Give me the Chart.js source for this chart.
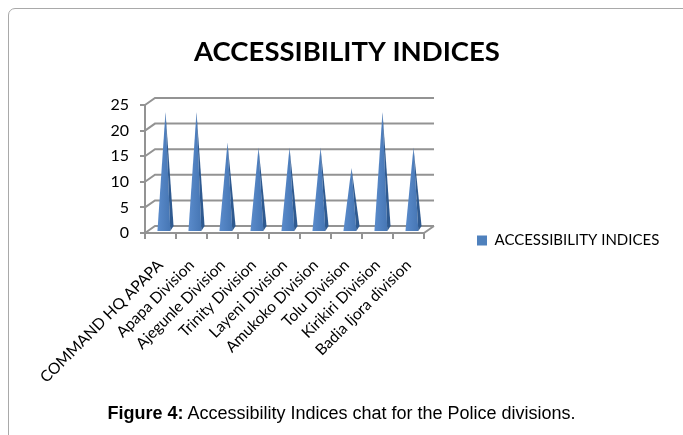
<!DOCTYPE html>
<html>
<head>
<meta charset="utf-8">
<title>Accessibility Indices</title>
<script src="https://cdn.jsdelivr.net/npm/chart.js@4.4.0/dist/chart.umd.min.js"></script>
<style>
  html, body { margin: 0; padding: 0; background: #fff; overflow: hidden; }
  .figure { position: relative; width: 683px; height: 435px; }
  .frame {
    position: absolute; left: 8px; top: 8px; width: 720px; height: 440px;
    border: 1px solid #a9a9a9; border-radius: 7px;
  }
  #chart { position: absolute; left: 0; top: 0; }
  .caption {
    position: absolute; left: 0; top: 403px; width: 683px; text-align: center;
    font: 18px "Liberation Sans", Arial, sans-serif; color: #000;
  }
</style>
</head>
<body>
<div class="figure">
  <div class="frame"></div>
  <canvas id="chart" width="683" height="435"></canvas>
  <div class="caption"><b>Figure 4:</b> Accessibility Indices chat for the Police divisions.</div>
</div>
<script>
const divisions = [
  'COMMAND HQ APAPA', 'Apapa Division', 'Ajegunle Division', 'Trinity Division',
  'Layeni Division', 'Amukoko Division', 'Tolu Division', 'Kirikiri Division',
  'Badia Ijora division'
]
const accessibility = [23, 23, 17, 16, 16, 16, 12, 23, 16]
const seriesName = 'ACCESSIBILITY INDICES'
const yMax = 25
const yStep = 5

// offset of the back wall, gives the plot its 3-D depth
const DEPTH = { x: 10, y: -7 }
const GRID = '#939393'
const BLUE = '#4f81bd'

const wallsPlugin = {
  id: 'walls',
  beforeDatasetsDraw(chart) {
    const { ctx, chartArea: a, scales: { y } } = chart
    ctx.save()
    ctx.strokeStyle = GRID
    ctx.lineWidth = 2
    ctx.beginPath()
    y.ticks.forEach(t => {
      const py = y.getPixelForValue(t.value)
      ctx.moveTo(a.left, py)
      ctx.lineTo(a.left + DEPTH.x, py + DEPTH.y)
      ctx.lineTo(a.right + DEPTH.x, py + DEPTH.y)
    })
    // right edge of the floor
    ctx.moveTo(a.right, a.bottom)
    ctx.lineTo(a.right + DEPTH.x, a.bottom + DEPTH.y)
    ctx.stroke()
    ctx.restore()
  }
}

// bars are drawn as pyramids standing in the middle of the depth
const pyramidPlugin = {
  id: 'pyramids',
  beforeDatasetDraw(chart, args) {
    const { ctx } = chart
    ctx.save()
    args.meta.data.forEach(bar => {
      const { x, y, base, width } = bar.getProps(['x', 'y', 'base', 'width'], true)
      const cx = x + DEPTH.x / 2
      const tipY = y + DEPTH.y / 2
      const half = width / 2
      const frontY = base - 1
      const backY = base + DEPTH.y * 0.85
      const edgeX = cx + half * 0.6

      const face = ctx.createLinearGradient(cx - half, 0, edgeX, 0)
      face.addColorStop(0, '#5a8bcb')
      face.addColorStop(1, '#4676b4')
      ctx.fillStyle = face
      ctx.beginPath()
      ctx.moveTo(cx, tipY)
      ctx.lineTo(cx - half, frontY)
      ctx.lineTo(edgeX, frontY)
      ctx.closePath()
      ctx.fill()

      ctx.fillStyle = '#2f5a90'
      ctx.beginPath()
      ctx.moveTo(cx, tipY)
      ctx.lineTo(edgeX, frontY)
      ctx.lineTo(cx + half, backY)
      ctx.closePath()
      ctx.fill()
    })
    ctx.restore()
    return false
  }
}

Chart.defaults.font.family = 'Lato, "Open Sans", sans-serif'
Chart.defaults.color = '#000'

new Chart(document.getElementById('chart'), {
  type: 'bar',
  data: {
    labels: divisions,
    datasets: [{
      label: seriesName,
      data: accessibility,
      backgroundColor: BLUE,
      categoryPercentage: 1,
      barPercentage: 0.52
    }]
  },
  options: {
    responsive: false,
    animation: false,
    layout: { padding: { left: 26, right: 15, top: 36, bottom: -10 } },
    plugins: {
      title: {
        display: true,
        text: seriesName,
        font: { size: 27.5, weight: 'bold' },
        padding: { top: 0, bottom: 36 }
      },
      legend: {
        position: 'right',
        maxWidth: 244,
        labels: {
          boxWidth: 10,
          boxHeight: 10,
          padding: 53,
          font: { size: 15 }
        }
      },
      tooltip: { enabled: false }
    },
    scales: {
      x: {
        afterFit: scale => { scale.height = 212 },
        grid: { drawOnChartArea: false, tickLength: 6, color: GRID, lineWidth: 2 },
        border: { color: GRID, width: 2 },
        ticks: {
          autoSkip: false,
          minRotation: 45,
          maxRotation: 45,
          padding: 17,
          font: { size: 15.5 }
        }
      },
      y: {
        min: 0,
        max: yMax,
        afterFit: scale => { scale.width = 119 },
        grid: { drawOnChartArea: false, tickLength: 5, color: GRID, lineWidth: 2 },
        border: { color: GRID, width: 2 },
        ticks: { stepSize: yStep, padding: 11, font: { size: 16 } }
      }
    }
  },
  plugins: [wallsPlugin, pyramidPlugin]
})
</script>
</body>
</html>
